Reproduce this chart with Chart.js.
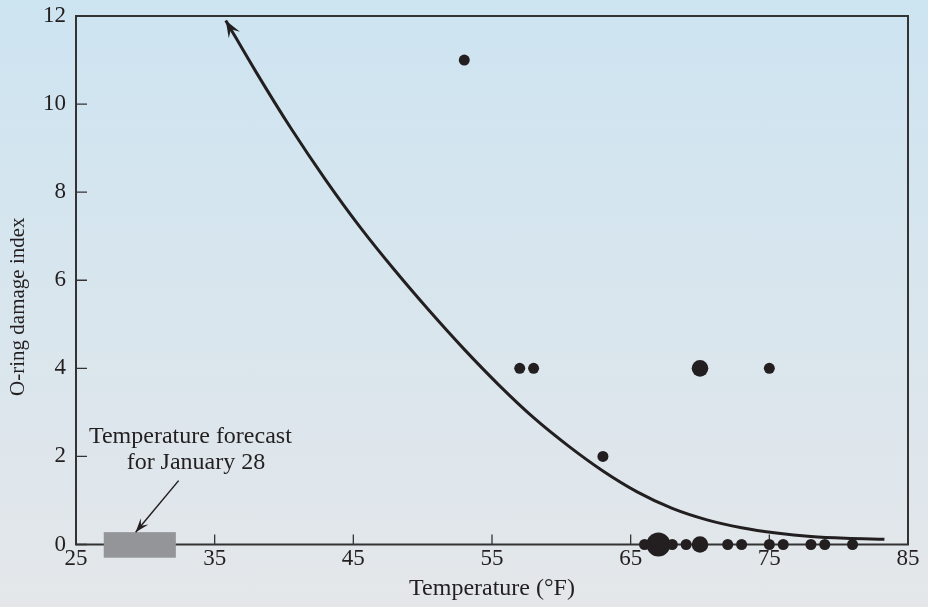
<!DOCTYPE html>
<html>
<head>
<meta charset="utf-8">
<script src="https://cdn.jsdelivr.net/npm/chart.js@4.4.1/dist/chart.umd.min.js"></script>
<style>
  html, body { margin: 0; padding: 0; }
  body { width: 928px; height: 607px; overflow: hidden;
         background: linear-gradient(to bottom, #cde4f1 0%, #e4e7ea 100%); }
  canvas { display: block; }
</style>
</head>
<body>
<canvas id="oring" width="928" height="607"></canvas>
<script>
// O-ring damage index vs launch temperature

const xTicks = [25, 35, 45, 55, 65, 75, 85];
const yTicks = [0, 2, 4, 6, 8, 10, 12];

// observed flights (count = how many flights share the dot)
const flightTemp  = [53, 57, 58, 63, 70, 75, 66, 67, 68, 69, 70, 72, 73, 75, 76, 78, 79, 81];
const flightIndex = [11, 4, 4, 2, 4, 4, 0, 0, 0, 0, 0, 0, 0, 0, 0, 0, 0, 0];
const flightCount = [1, 1, 1, 1, 2, 1, 1, 3, 1, 1, 2, 1, 1, 1, 1, 1, 1, 1];

// fitted curve
const curveTemp  = [35.8, 38.0, 40.5, 43.0, 45.5, 48.0, 50.5, 53.0, 55.5, 58.0, 60.5, 63.0, 65.5, 68.0, 70.5, 73.0, 75.5, 78.0, 80.5, 83.3];
const curveIndex = [11.9, 10.72, 9.45, 8.28, 7.2, 6.22, 5.3, 4.43, 3.62, 2.88, 2.24, 1.67, 1.19, 0.82, 0.56, 0.38, 0.26, 0.18, 0.14, 0.12];

// forecast box + note
const forecastTemp = [27.0, 32.2];
const forecastBand = [-0.3, 0.28];
const noteLines = ['Temperature forecast', 'for January 28'];
const noteAnchor = [[33.25, 2.44], [33.65, 1.85]];
const noteArrow = [[32.4, 1.45], [29.3, 0.28]];

const INK = '#231f20';
const SERIF = "'Liberation Serif', 'DejaVu Serif', serif";
const dotRadius = { 1: 5.5, 2: 8.3, 3: 12 };

function arrowHead(ctx, from, to, len, half, notch) {
  const ang = Math.atan2(to.y - from.y, to.x - from.x);
  const c = Math.cos(ang), s = Math.sin(ang);
  const bx = to.x - c * len, by = to.y - s * len;
  ctx.beginPath();
  ctx.moveTo(to.x, to.y);
  ctx.lineTo(bx - s * half, by + c * half);
  ctx.lineTo(to.x - c * len * notch, to.y - s * len * notch);
  ctx.lineTo(bx + s * half, by - c * half);
  ctx.closePath();
  ctx.fill();
}

const decor = {
  id: 'decor',
  beforeDatasetsDraw(chart) {
    const { ctx, chartArea: a, scales: { x, y } } = chart;
    ctx.save();
    ctx.strokeStyle = '#333';
    ctx.lineWidth = 2;
    ctx.strokeRect(a.left, a.top, a.right - a.left, a.bottom - a.top);
    // inward ticks
    ctx.lineWidth = 1.3;
    ctx.beginPath();
    x.ticks.forEach(t => {
      const px = x.getPixelForValue(t.value);
      ctx.moveTo(px, a.bottom); ctx.lineTo(px, a.bottom - 10);
    });
    y.ticks.forEach(t => {
      const py = y.getPixelForValue(t.value);
      ctx.moveTo(a.left, py); ctx.lineTo(a.left + 11, py);
    });
    ctx.stroke();
    ctx.restore();
  },
  afterDatasetsDraw(chart) {
    const { ctx, scales: { x, y } } = chart;
    const P = (v) => ({ x: x.getPixelForValue(v[0]), y: y.getPixelForValue(v[1]) });
    ctx.save();
    ctx.fillStyle = INK;

    // arrow at the start of the curve
    const c0 = P([curveTemp[0], curveIndex[0]]);
    const c1 = P([curveTemp[1], curveIndex[1]]);
    arrowHead(ctx, c1, c0, 17, 6.5, 0.6);

    // forecast box
    const x0 = x.getPixelForValue(forecastTemp[0]), x1 = x.getPixelForValue(forecastTemp[1]);
    const y0 = y.getPixelForValue(forecastBand[1]), y1 = y.getPixelForValue(forecastBand[0]);
    ctx.fillStyle = '#939598';
    ctx.fillRect(x0, y0, x1 - x0, y1 - y0);

    // note + arrow
    ctx.fillStyle = INK;
    ctx.font = '24px ' + SERIF;
    ctx.textAlign = 'center';
    ctx.textBaseline = 'middle';
    noteLines.forEach((t, i) => {
      const p = P(noteAnchor[i]);
      ctx.fillText(t, p.x, p.y);
    });
    const a0 = P(noteArrow[0]), a1 = P(noteArrow[1]);
    ctx.strokeStyle = INK;
    ctx.lineWidth = 1.5;
    ctx.beginPath();
    ctx.moveTo(a0.x, a0.y);
    ctx.lineTo(a1.x, a1.y);
    ctx.stroke();
    arrowHead(ctx, a0, a1, 14, 5, 0.6);

    // y axis title
    ctx.save();
    ctx.translate(18, y.getPixelForValue(5.4));
    ctx.rotate(-Math.PI / 2);
    ctx.font = '21px ' + SERIF;
    ctx.fillText('O-ring damage index', 0, 0);
    ctx.restore();
    ctx.restore();
  }
};

new Chart(document.getElementById('oring'), {
  data: {
    datasets: [
      {
        type: 'line',
        data: curveTemp.map((t, i) => ({ x: t, y: curveIndex[i] })),
        borderColor: INK,
        borderWidth: 3,
        pointRadius: 0,
        cubicInterpolationMode: 'monotone',
        fill: false,
        order: 2,
      },
      {
        type: 'scatter',
        data: flightTemp.map((t, i) => ({ x: t, y: flightIndex[i] })),
        backgroundColor: INK,
        borderWidth: 0,
        pointRadius: flightCount.map(n => dotRadius[n]),
        clip: false,
        order: 1,
      },
    ],
  },
  options: {
    responsive: false,
    animation: false,
    events: [],
    layout: { padding: { top: 16, right: 20, left: 0, bottom: 0 } },
    plugins: { legend: { display: false }, tooltip: { enabled: false } },
    scales: {
      x: {
        type: 'linear', min: 25, max: 85,
        afterBuildTicks: s => { s.ticks = xTicks.map(v => ({ value: v })); },
        afterFit: s => { s.height = 62.5; s.paddingLeft = 0; s.paddingRight = 0; },
        grid: { display: false, drawTicks: false },
        border: { display: false },
        ticks: { color: INK, font: { family: SERIF, size: 23 }, padding: 1 },
        title: { display: true, text: 'Temperature (°F)', color: INK,
                 font: { family: SERIF, size: 24 }, padding: { top: 0, bottom: 4 } },
      },
      y: {
        type: 'linear', min: 0, max: 12,
        afterBuildTicks: s => { s.ticks = yTicks.map(v => ({ value: v })); },
        afterFit: s => { s.width = 76; s.paddingTop = 0; s.paddingBottom = 0; },
        grid: { display: false, drawTicks: false },
        border: { display: false },
        ticks: { color: INK, font: { family: SERIF, size: 23 }, padding: 10 },
      },
    },
  },
  plugins: [decor],
});
</script>
</body>
</html>
